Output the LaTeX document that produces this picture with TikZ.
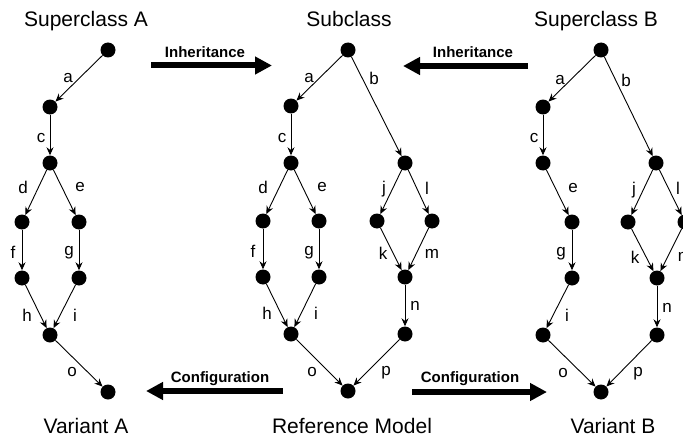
\documentclass[tikz,border=0pt]{standalone}
\usepackage{fontspec}
\setmainfont{Liberation Sans}
\usetikzlibrary{arrows.meta}

\tikzset{
  dot/.style={circle, fill=black, minimum size=15pt, inner sep=0pt},
  link/.style={-{Stealth[length=8pt,width=7pt]}, line width=0.9pt},
  lbl/.style={inner sep=0pt, font=\fontsize{17}{19}\selectfont},
  title/.style={inner sep=0pt, anchor=base, font=\fontsize{21}{24}\selectfont},
  bigtxt/.style={inner sep=0pt, anchor=base, font=\fontsize{15}{18}\selectfont\bfseries},
  bigarrow/.style={-{Triangle[length=17pt,width=17pt]}, line width=6pt}
}

\begin{document}
\begin{tikzpicture}[x=1pt,y=-1pt]
\useasboundingbox (0,0) rectangle (683,436);
\clip (0,0) rectangle (683,436);

% ---------- Superclass A ----------
\node[title] (tA) at (86,27) {Superclass A};
\node[title] (vA) at (86,433) {Variant A};
\node[dot] (A0) at (108,50) {};
\node[dot] (A1) at (50,107) {};
\node[dot] (A2) at (50,163) {};
\node[dot] (A3) at (22,222) {};
\node[dot] (A4) at (79,222) {};
\node[dot] (A5) at (22,278) {};
\node[dot] (A6) at (79,278) {};
\node[dot] (A7) at (50,335) {};
\node[dot] (A8) at (108,392) {};
\draw[link] (A0) -- (A1);
\draw[link] (A1) -- (A2);
\draw[link] (A2) -- (A3);
\draw[link] (A2) -- (A4);
\draw[link] (A3) -- (A5);
\draw[link] (A4) -- (A6);
\draw[link] (A5) -- (A7);
\draw[link] (A6) -- (A7);
\draw[link] (A7) -- (A8);
\node[lbl] (la) at (68,78) {a};
\node[lbl] (lc) at (41,138) {c};
\node[lbl] (ld) at (23,187) {d};
\node[lbl] (le) at (80,187) {e};
\node[lbl] (lf) at (13,252) {f};
\node[lbl] (lg) at (69,253) {g};
\node[lbl] (lh) at (27,315) {h};
\node[lbl] (li) at (75,315) {i};
\node[lbl] (lo) at (72,372) {o};

% ---------- Subclass / Reference Model ----------
\node[title] (tS) at (349,27) {Subclass};
\node[title] (vS) at (352,433) {Reference Model};
\node[dot] (S0) at (348,50) {};
\node[dot] (S1) at (291,106) {};
\node[dot] (S2) at (291,163) {};
\node[dot] (S3) at (263,221) {};
\node[dot] (S4) at (319,221) {};
\node[dot] (S5) at (263,277) {};
\node[dot] (S6) at (319,277) {};
\node[dot] (S7) at (291,334) {};
\node[dot] (S8) at (348,391) {};
\node[dot] (S9) at (405,163) {};
\node[dot] (S10) at (377,221) {};
\node[dot] (S11) at (432,221) {};
\node[dot] (S12) at (405,277) {};
\node[dot] (S13) at (405,334) {};
\draw[link] (S0) -- (S1);
\draw[link] (S1) -- (S2);
\draw[link] (S2) -- (S3);
\draw[link] (S2) -- (S4);
\draw[link] (S3) -- (S5);
\draw[link] (S4) -- (S6);
\draw[link] (S5) -- (S7);
\draw[link] (S6) -- (S7);
\draw[link] (S7) -- (S8);
\draw[link] (S0) -- (S9);
\draw[link] (S9) -- (S10);
\draw[link] (S9) -- (S11);
\draw[link] (S10) -- (S12);
\draw[link] (S11) -- (S12);
\draw[link] (S12) -- (S13);
\draw[link] (S13) -- (S8);
\node[lbl] (sa) at (309,78) {a};
\node[lbl] (sb) at (374,78) {b};
\node[lbl] (sc) at (282,138) {c};
\node[lbl] (sd) at (263,187) {d};
\node[lbl] (se) at (322,187) {e};
\node[lbl] (sj) at (384,189) {j};
\node[lbl] (sl) at (427,188) {l};
\node[lbl] (sf) at (253,251) {f};
\node[lbl] (sg) at (309,253) {g};
\node[lbl] (sk) at (383,253) {k};
\node[lbl] (sm) at (432,254) {m};
\node[lbl] (sh) at (267,313) {h};
\node[lbl] (si) at (316,313) {i};
\node[lbl] (sn) at (415,306) {n};
\node[lbl] (so) at (312,372) {o};
\node[lbl] (sp) at (386,373) {p};

% ---------- Superclass B ----------
\node[title] (tB) at (596,27) {Superclass B};
\node[title] (vB) at (613,433) {Variant B};
\node[dot] (B0) at (601,50) {};
\node[dot] (B1) at (543,107) {};
\node[dot] (B2) at (543,163) {};
\node[dot] (B3) at (572,222) {};
\node[dot] (B4) at (572,278) {};
\node[dot] (B5) at (543,335) {};
\node[dot] (B6) at (601,392) {};
\node[dot] (B7) at (656,163) {};
\node[dot] (B8) at (628,222) {};
\node[dot] (B9) at (685,222) {};
\node[dot] (B10) at (657,278) {};
\node[dot] (B11) at (657,335) {};
\draw[link] (B0) -- (B1);
\draw[link] (B1) -- (B2);
\draw[link] (B2) -- (B3);
\draw[link] (B3) -- (B4);
\draw[link] (B4) -- (B5);
\draw[link] (B5) -- (B6);
\draw[link] (B0) -- (B7);
\draw[link] (B7) -- (B8);
\draw[link] (B7) -- (B9);
\draw[link] (B8) -- (B10);
\draw[link] (B9) -- (B10);
\draw[link] (B10) -- (B11);
\draw[link] (B11) -- (B6);
\node[lbl] (ba) at (560,80) {a};
\node[lbl] (bb) at (626,80) {b};
\node[lbl] (bc) at (534,138) {c};
\node[lbl] (be) at (573,188) {e};
\node[lbl] (bj) at (634,190) {j};
\node[lbl] (bl) at (678,188) {l};
\node[lbl] (bg) at (561,254) {g};
\node[lbl] (bk) at (635,257) {k};
\node[lbl] (bm) at (685,257) {m};
\node[lbl] (bi) at (567,315) {i};
\node[lbl] (bn) at (667,308) {n};
\node[lbl] (bo) at (563,373) {o};
\node[lbl] (bp) at (638,374) {p};

% ---------- Inheritance / Configuration arrows ----------
\coordinate (i1s) at (151,65.5);
\coordinate (i1e) at (272,65.5);
\coordinate (i2s) at (528,66);
\coordinate (i2e) at (403,66);
\coordinate (c1s) at (283,391);
\coordinate (c1e) at (146,391);
\coordinate (c2s) at (412,392);
\coordinate (c2e) at (547,392);
\draw[bigarrow] (i1s) -- (i1e);
\draw[bigarrow] (i2s) -- (i2e);
\draw[bigarrow] (c1s) -- (c1e);
\draw[bigarrow] (c2s) -- (c2e);
\node[bigtxt] (ti1) at (205,58) {Inheritance};
\node[bigtxt] (ti2) at (473,58) {Inheritance};
\node[bigtxt] (tc1) at (220,382) {Configuration};
\node[bigtxt] (tc2) at (470,382) {Configuration};
\end{tikzpicture}
\end{document}
